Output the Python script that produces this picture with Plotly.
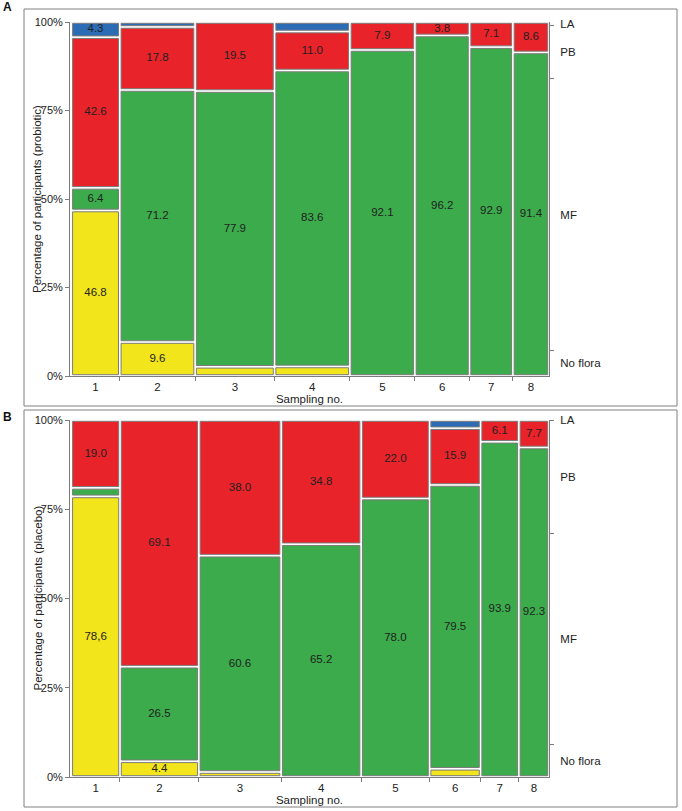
import plotly.graph_objects as go

W, H = 682, 811

# ---------------- data ----------------
samples = ["1", "2", "3", "4", "5", "6", "7", "8"]
categories = ["No flora", "MF", "PB", "LA"]

# Panel A (probiotic): participants per sampling (column widths) and % per category
n_probiotic = [47, 73, 77, 73, 63, 53, 42, 35]
pro_noflora = [46.8, 9.6, 2.6, 2.7, 0.0, 0.0, 0.0, 0.0]
pro_mf = [6.4, 71.2, 77.9, 83.6, 92.1, 96.2, 92.9, 91.4]
pro_pb = [42.6, 17.8, 19.5, 11.0, 7.9, 3.8, 7.1, 8.6]
pro_la = [4.3, 1.4, 0.0, 2.7, 0.0, 0.0, 0.0, 0.0]

# Panel B (placebo)
n_placebo = [42, 68, 71, 69, 59, 44, 33, 26]
pla_noflora = [78.6, 4.4, 1.4, 0.0, 0.0, 2.3, 0.0, 0.0]
pla_mf = [2.4, 26.5, 60.6, 65.2, 78.0, 79.5, 93.9, 92.3]
pla_pb = [19.0, 69.1, 38.0, 34.8, 22.0, 15.9, 6.1, 7.7]
pla_la = [0.0, 0.0, 0.0, 0.0, 0.0, 2.3, 0.0, 0.0]

# label overrides (as printed in the original)
pla_label_override = {("No flora", 0): "78,6"}
label_min = 3.5

colors = {"No flora": "#f2e51b", "MF": "#3bab4b", "PB": "#e8232a", "LA": "#2b6cb4"}
EDGE = "#7c7c7c"
AXC = "#7c7c7c"
FONT = "Liberation Sans, Arial, sans-serif"
TXT = "#222222"
FS = 11.5


def px_x(x):
    return x / W


def px_y(y):
    return 1 - y / H


fig = go.Figure()


def add_panel(idx, ns, series, overrides, ytop, ybot, ytitle):
    sfx = "" if idx == 1 else str(idx)
    xa, ya = "x" + sfx, "y" + sfx
    total = sum(ns)
    gap_x = total * 2.6 / 479.0
    gap_y = 100 * 2.6 / (ybot - ytop)
    cum = [0]
    for n in ns:
        cum.append(cum[-1] + n)
    centers = [(cum[i] + cum[i + 1]) / 2 for i in range(len(ns))]
    col_sum = [sum(series[c][i] for c in categories) for i in range(len(ns))]

    base_acc = [0.0] * len(ns)
    tx, ty, tt = [], [], []
    for c in categories:
        vals = series[c]
        xs, ws, bs, hs = [], [], [], []
        for i, v in enumerate(vals):
            if v <= 0:
                continue
            frac = v / col_sum[i] * 100
            xs.append(centers[i])
            ws.append(ns[i] - gap_x)
            bs.append(base_acc[i] + gap_y / 2)
            hs.append(max(frac - gap_y, 0.3))
            lab = overrides.get((c, i), f"{v:.1f}" if v >= label_min else "")
            if lab:
                tx.append(centers[i])
                ty.append(base_acc[i] + frac / 2)
                tt.append(lab)
            base_acc[i] += frac
        fig.add_trace(go.Bar(
            x=xs, y=hs, base=bs, width=ws, xaxis=xa, yaxis=ya,
            marker=dict(color=colors[c], line=dict(color=EDGE, width=1)),
            showlegend=False, hoverinfo="skip"))
    fig.add_trace(go.Scatter(
        x=tx, y=ty, text=tt, mode="text", xaxis=xa, yaxis=ya,
        textfont=dict(family=FONT, size=FS, color=TXT),
        showlegend=False, hoverinfo="skip"))

    # overall marginal distribution (%) for the right-hand scale
    shares = [100 * sum(n * v / s for n, v, s in zip(ns, series[c], col_sum)) / total
              for c in categories]
    bounds, mids, acc = [], [], 0.0
    for s in shares:
        mids.append(acc + s / 2)
        acc += s
        bounds.append(acc)
    bounds = bounds[:-1]

    dom_x = [px_x(70), px_x(549)]
    dom_y = [px_y(ybot), px_y(ytop)]
    xr = [-gap_x / 2, total]

    xh = "x" + str(10 + idx)
    yr1 = "y" + str(10 + idx)
    yr2 = "y" + str(20 + idx)

    fig.update_layout(**{
        "xaxis" + sfx: dict(domain=dom_x, range=xr, anchor=ya, showline=True,
                            linecolor=AXC, linewidth=1, tickvals=centers,
                            ticktext=samples, ticks="", showgrid=False,
                            zeroline=False, fixedrange=True, automargin=False,
                            tickfont=dict(family=FONT, size=FS, color=TXT),
                            title=dict(text="Sampling no.", standoff=0,
                                       font=dict(family=FONT, size=FS, color=TXT))),
        "yaxis" + sfx: dict(domain=dom_y, range=[0, 100], anchor=xa, showline=True,
                            linecolor=AXC, linewidth=1, tickvals=[0, 25, 50, 75, 100],
                            ticktext=["0%", "25%", "50%", "75%", "100%"],
                            ticks="outside", ticklen=4, tickcolor=AXC,
                            showgrid=False, zeroline=False, automargin=False,
                            fixedrange=True,
                            tickfont=dict(family=FONT, size=11, color=TXT)),
        "xaxis" + str(10 + idx): dict(overlaying=xa, anchor=ya, range=xr, side="bottom",
                                      tickvals=cum[1:-1], ticktext=[""] * (len(cum) - 2),
                                      ticks="outside", ticklen=4, tickcolor=AXC,
                                      showgrid=False, zeroline=False, showline=False,
                                      automargin=False),
        "yaxis" + str(10 + idx): dict(overlaying=ya, anchor=xa, side="right",
                                      range=[0, 100], showline=True, linecolor=AXC,
                                      tickvals=bounds, ticktext=[""] * len(bounds),
                                      ticks="outside", ticklen=4, tickcolor=AXC,
                                      showgrid=False, zeroline=False, automargin=False),
        "yaxis" + str(20 + idx): dict(overlaying=ya, anchor=xa, side="right",
                                      range=[0, 100], showline=False,
                                      tickvals=mids, ticktext=categories,
                                      ticks="outside", ticklen=8,
                                      tickcolor="rgba(0,0,0,0)",
                                      showgrid=False, zeroline=False, automargin=False,
                                      tickfont=dict(family=FONT, size=FS, color=TXT)),
    })
    # dummy traces so helper axes render
    fig.add_trace(go.Scatter(x=[None], y=[None], xaxis=xh, yaxis=ya,
                             showlegend=False, hoverinfo="skip"))
    fig.add_trace(go.Scatter(x=[None], y=[None], xaxis=xa, yaxis=yr1,
                             showlegend=False, hoverinfo="skip"))
    fig.add_trace(go.Scatter(x=[None], y=[None], xaxis=xa, yaxis=yr2,
                             showlegend=False, hoverinfo="skip"))

    # y-axis title
    fig.add_annotation(text=ytitle, xref="paper", yref="paper",
                       x=px_x(37), y=(dom_y[0] + dom_y[1]) / 2, textangle=-90,
                       showarrow=False, xanchor="center", yanchor="middle",
                       font=dict(family=FONT, size=FS, color=TXT))


add_panel(1, n_probiotic,
          {"No flora": pro_noflora, "MF": pro_mf, "PB": pro_pb, "LA": pro_la},
          {}, 22, 376, "Percentage of participants (probiotic)")
add_panel(2, n_placebo,
          {"No flora": pla_noflora, "MF": pla_mf, "PB": pla_pb, "LA": pla_la},
          pla_label_override, 420, 777, "Percentage of participants (placebo)")

# panel frames and letters
for (y0, y1, letter, ly) in [(9, 406, "A", 7), (410, 807, "B", 417)]:
    fig.add_shape(type="rect", xref="paper", yref="paper",
                  x0=px_x(24), x1=px_x(677), y0=px_y(y1), y1=px_y(y0),
                  line=dict(color="#808080", width=1), fillcolor="rgba(0,0,0,0)")
    fig.add_annotation(text="<b>" + letter + "</b>", xref="paper", yref="paper",
                       x=px_x(7), y=px_y(ly), showarrow=False,
                       xanchor="center", yanchor="middle",
                       font=dict(family=FONT, size=12, color="#111"))

fig.update_layout(width=W, height=H, margin=dict(l=0, r=0, t=0, b=0),
                  paper_bgcolor="white", plot_bgcolor="white",
                  barmode="overlay", bargap=0, showlegend=False)

# remove the default 8px body margin so the figure fills the window exactly
fig.write_html("out.html", config={"displayModeBar": False, "staticPlot": True},
               post_script="document.body.style.margin='0px';")
